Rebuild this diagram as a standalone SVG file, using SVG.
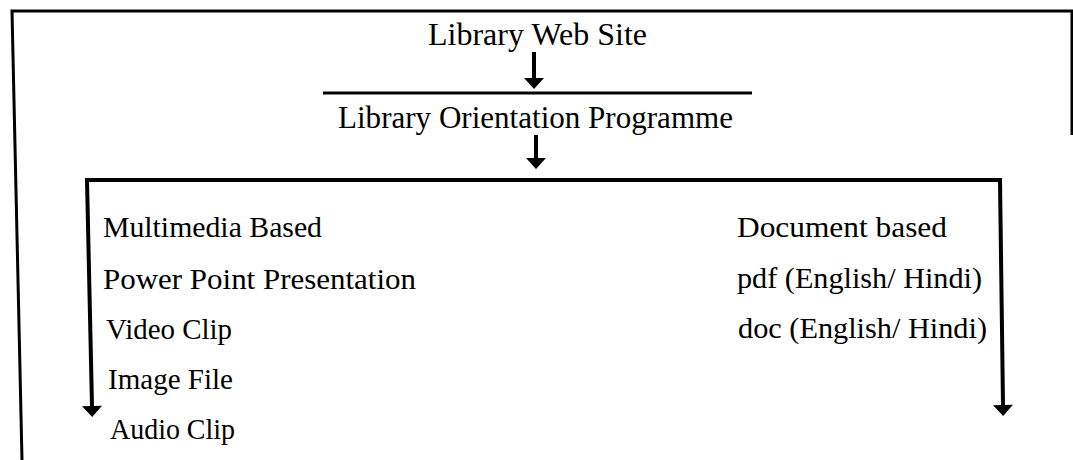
<svg xmlns="http://www.w3.org/2000/svg" width="1073" height="460" viewBox="0 0 1073 460">
<style>
  text { font-family: "Liberation Serif", "Times New Roman", serif; font-size: 30px; fill: #000; }
  .h { font-size: 31px; }
  .frame { fill: none; stroke: #000; stroke-width: 3; }
  .conn { fill: none; stroke: #000; stroke-width: 4; }
</style>
<defs>
  <marker id="ah" markerUnits="userSpaceOnUse" markerWidth="12" markerHeight="20" viewBox="0 0 11 20" refX="0" refY="10" orient="auto-start-reverse">
    <path d="M0,0 L11,10 L0,20 z" fill="#000"/>
  </marker>
</defs>
<rect width="1073" height="460" fill="#fff"/>
<g id="frame">
  <path class="frame" d="M22,460 L12,11 L1072,11 L1072,135"/>
  <path class="frame" d="M323,93 L752,93"/>
</g>
<g id="connectors">
  <path class="conn" d="M534,52 L534,78" marker-end="url(#ah)"/>
  <path class="conn" d="M536,135 L536,158" marker-end="url(#ah)"/>
  <path class="conn" d="M92,406 L87,180 L1000,180 L1003,405" marker-start="url(#ah)" marker-end="url(#ah)"/>
</g>
<g id="node-website"><text class="h" x="428" y="45" textLength="219" lengthAdjust="spacingAndGlyphs">Library Web Site</text></g>
<g id="node-orientation"><text class="h" x="338" y="128" textLength="395" lengthAdjust="spacingAndGlyphs">Library Orientation Programme</text></g>
<g id="node-multimedia">
  <text x="103" y="237" textLength="219" lengthAdjust="spacingAndGlyphs">Multimedia Based</text>
  <text x="103" y="289" textLength="313" lengthAdjust="spacingAndGlyphs">Power Point Presentation</text>
  <text x="106" y="339" textLength="126" lengthAdjust="spacingAndGlyphs">Video Clip</text>
  <text x="108" y="389" textLength="125" lengthAdjust="spacingAndGlyphs">Image File</text>
  <text x="110" y="439" textLength="125" lengthAdjust="spacingAndGlyphs">Audio Clip</text>
</g>
<g id="node-document">
  <text x="737" y="237" textLength="210" lengthAdjust="spacingAndGlyphs">Document based</text>
  <text x="737" y="288" textLength="245" lengthAdjust="spacingAndGlyphs">pdf (English/ Hindi)</text>
  <text x="738" y="338" textLength="249" lengthAdjust="spacingAndGlyphs">doc (English/ Hindi)</text>
</g>
</svg>
